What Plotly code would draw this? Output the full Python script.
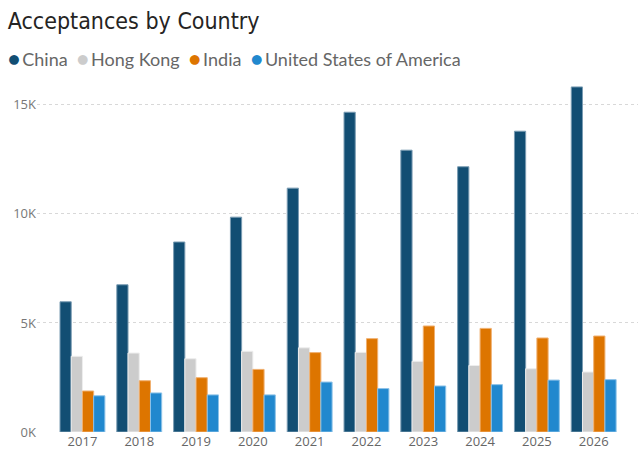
import plotly.graph_objects as go

years = ["2017", "2018", "2019", "2020", "2021", "2022", "2023", "2024", "2025", "2026"]

china = [5970, 6750, 8710, 9850, 11180, 14660, 12920, 12160, 13790, 15820]
hong_kong = [3470, 3620, 3360, 3700, 3860, 3650, 3240, 3050, 2900, 2750]
india = [1880, 2350, 2490, 2870, 3640, 4280, 4860, 4750, 4310, 4400]
usa = [1660, 1790, 1700, 1700, 2290, 1990, 2110, 2170, 2380, 2400]

names = ["China", "Hong Kong", "India", "United States of America"]
colors = ["#124E73", "#CCCCCC", "#DD7500", "#2188CE"]
edges = ["#7A9CB3", "#EDEDED", "#F0B070", "#8CC2E8"]

y_ticks = [0, 5000, 10000, 15000]
y_labels = ["0K", "5K", "10K", "15K"]

fig = go.Figure()
for name, vals, c, e in zip(names, [china, hong_kong, india, usa], colors, edges):
    fig.add_trace(go.Bar(x=years, y=vals, name=name,
                         marker=dict(color=c, line=dict(color=e, width=1))))

# legend as one line of text, like the Power BI header
legend_txt = "&nbsp;&nbsp;".join(
    f"<span style='color:{c};font-size:20px'>●</span>&#8201;{n}"
    for n, c in zip(names, colors))

fig.add_annotation(text=legend_txt, xref="paper", yref="paper",
                   x=0, y=1, xshift=-31, yshift=25, xanchor="left", yanchor="middle",
                   showarrow=False, font=dict(family="Lato", size=18, color="#666666"))

fig.update_layout(
    width=643, height=466,
    margin=dict(l=37, r=5, t=83, b=34),
    paper_bgcolor="white", plot_bgcolor="white",
    barmode="group", bargap=0.21, bargroupgap=0,
    showlegend=False,
    title=dict(text="Acceptances by Country", x=0.012, xanchor="left",
               y=0.955, yanchor="middle",
               font=dict(family="DejaVu Sans Condensed, Roboto", size=23, color="#252423")),
    font=dict(family="Open Sans", size=13, color="#777777"),
)
fig.update_xaxes(range=[-0.8, 9.78], showgrid=False, showline=False, ticks="",
                 tickfont=dict(size=13, color="#666666"))
fig.update_yaxes(range=[0, 16000], tickvals=y_ticks, ticktext=y_labels,
                 showgrid=True, gridcolor="#D8D8D8", griddash="dot", gridwidth=1,
                 zeroline=False, showline=False, ticks="",
                 tickfont=dict(size=13, color="#777777"))

fig.write_html("out.html", config={"displayModeBar": False},
               post_script="document.body.style.margin='0';")
